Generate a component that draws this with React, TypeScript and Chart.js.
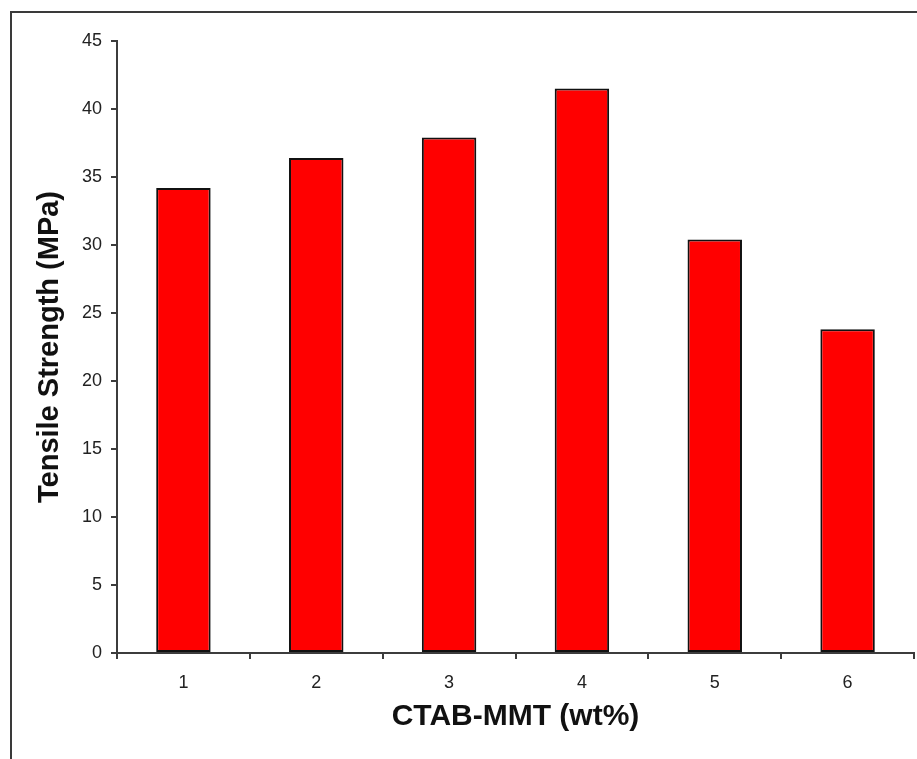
import React, { useEffect, useRef } from "react";
import { Chart, registerables } from "chart.js";

Chart.register(...registerables);

const categories = ["1", "2", "3", "4", "5", "6"];
const tensileStrength = [34.2, 36.4, 37.9, 41.5, 30.4, 23.8];
const yTitle = "Tensile Strength (MPa)";
const xTitle = "CTAB-MMT (wt%)";

const frame = {
  id: "frame",
  afterDraw(chart: any) {
    const ctx = chart.ctx;
    ctx.save();
    ctx.strokeStyle = "#3a3a3a";
    ctx.lineWidth = 2;
    ctx.beginPath();
    ctx.moveTo(11, chart.height);
    ctx.lineTo(11, 12);
    ctx.lineTo(chart.width, 12);
    ctx.stroke();
    ctx.restore();
  },
};

export default function App() {
  const ref = useRef<HTMLCanvasElement | null>(null);
  useEffect(() => {
    if (!ref.current) return;
    const axisColor = "#3c3c3c";
    const font = "'Liberation Sans', Arial, sans-serif";
    const chart = new Chart(ref.current, {
      type: "bar",
      data: {
        labels: categories,
        datasets: [
          {
            data: tensileStrength,
            backgroundColor: "#ff0000",
            borderColor: "#111111",
            borderWidth: 2,
            borderSkipped: false,
            barPercentage: 0.41,
            categoryPercentage: 1,
          },
        ],
      },
      options: {
        animation: false,
        responsive: false,
        devicePixelRatio: 1,
        layout: { padding: { left: 0, top: 41, right: 3, bottom: 0 } },
        plugins: {
          legend: { display: false },
          tooltip: { enabled: false },
        },
        scales: {
          x: {
            grid: {
              display: true,
              offset: true,
              drawOnChartArea: false,
              drawTicks: true,
              tickLength: 6,
              color: axisColor,
              lineWidth: 2,
            },
            border: { display: true, color: axisColor, width: 2 },
            ticks: {
              color: "#222",
              padding: 13,
              font: { family: font, size: 18 },
            },
            title: {
              display: true,
              text: xTitle,
              color: "#111",
              font: { family: font, size: 30, weight: "bold" },
              padding: { top: 0, bottom: 24 },
            },
            afterFit(scale: any) {
              scale.height = 106;
            },
          },
          y: {
            min: 0,
            max: 45,
            ticks: {
              stepSize: 5,
              color: "#222",
              padding: 9,
              font: { family: font, size: 18 },
            },
            grid: {
              display: true,
              drawOnChartArea: false,
              drawTicks: true,
              tickLength: 6,
              color: axisColor,
              lineWidth: 2,
            },
            border: { display: true, color: axisColor, width: 2 },
            title: {
              display: true,
              text: yTitle,
              color: "#111",
              font: { family: font, size: 29, weight: "bold" },
              padding: { top: 33, bottom: 0 },
            },
            afterFit(scale: any) {
              scale.width = 117;
            },
          },
        },
      },
      plugins: [frame],
    });
    return () => chart.destroy();
  }, []);
  return (
    <div style={{ position: "absolute", left: 0, top: 0, width: 917, height: 759, background: "#fff" }}>
      <canvas ref={ref} width={917} height={759} style={{ display: "block" }} />
    </div>
  );
}
